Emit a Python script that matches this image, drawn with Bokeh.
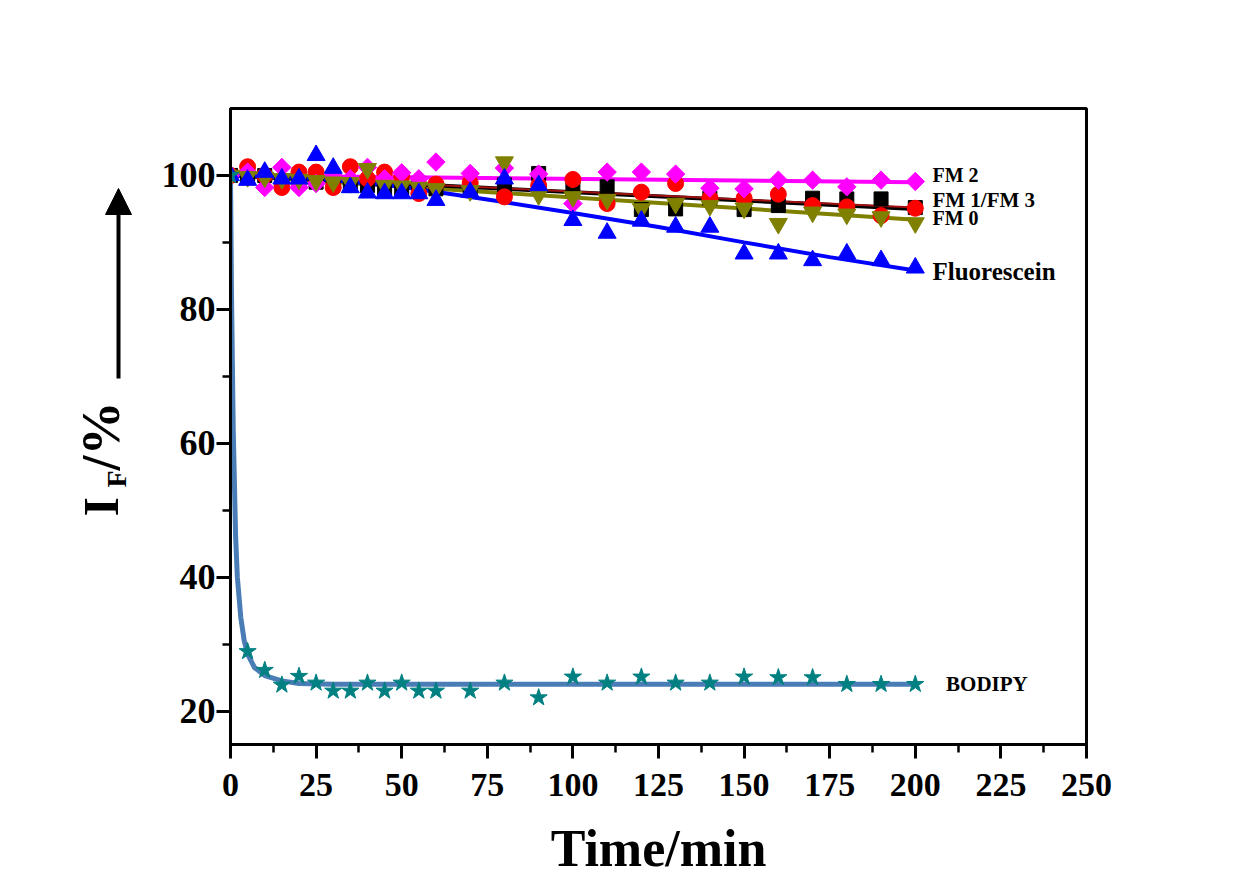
import math
from bokeh.plotting import figure
from bokeh.layouts import row
from bokeh.models import Range1d, FixedTicker, Arrow, NormalHead, ColumnDataSource
from bokeh.core.properties import value
from bokeh.embed import file_html
from bokeh.resources import INLINE

# ---- data ----
time_min = [0, 5, 10, 15, 20, 25, 30, 35, 40, 45, 50, 55, 60, 70, 80, 90,
            100, 110, 120, 130, 140, 150, 160, 170, 180, 190, 200]

fm1 = [100, 100, 100, 99, 99, 99, 99, 98.5, 98.5, 98, 98, 98.8, 98, 98, 98.6, 100.3,
       98, 98.3, 94.9, 95, 96.6, 94.9, 95.5, 96.6, 96.5, 96.5, 95.2]
fm3 = [100, 101.3, 100, 98.2, 100.5, 100.5, 98.2, 101.3, 99.5, 100.5, 99.8, 97.3, 98.7, 98.9, 96.8, 98.5,
       99.4, 95.8, 97.5, 98.8, 96.6, 96.6, 97.2, 95.5, 95.3, 94.0, 95.1]
fm2 = [100, 100.5, 98.2, 101.2, 98.2, 98.8, 100, 99.5, 101.2, 99.5, 100.4, 99.5, 102, 100.3, 101.1, 100.2,
       95.8, 100.5, 100.5, 100.2, 98.1, 98.0, 99.3, 99.3, 98.3, 99.3, 99.1]
fm0 = [100, 99.8, 99.7, 99.5, 99.4, 99.2, 99.0, 98.9, 101, 98.5, 98.4, 98.2, 98.0, 97.7, 102, 97.1,
       96.8, 96.4, 95.0, 95.8, 95.5, 95.1, 92.8, 94.5, 94.2, 93.8, 92.9]
fluorescein = [100, 99.3, 100.5, 99.5, 99.5, 103, 101.1, 98.2, 97.4, 97.3, 97.3, 97.3, 96.3, 97.5, 99.5, 98.5,
               93.3, 91.4, 93.2, 92.3, 92.3, 88.3, 88.3, 87.3, 88.3, 87.3, 86.2]
bodipy = [100, 28.9, 26.1, 23.9, 25.2, 24.2, 23.0, 23.0, 24.2, 23.0, 24.2, 23.0, 23.0, 23.0, 24.2, 22.0,
          25.1, 24.2, 25.1, 24.2, 24.2, 25.1, 25.0, 25.0, 24.0, 24.0, 24.0]

# fitted curves
fit_lin_x = [0, 200]
fit_fm2 = [100, 99.0]
fit_fm1 = [100, 95.0]
fit_fm3 = [100, 95.2]
fit_fm0 = [100, 93.4]
fit_fluo_x = [0, 25, 50, 75, 100, 125, 150, 175, 200]
fit_fluo = [100, 99.5, 98.3, 96.4, 94.4, 92.3, 90.0, 87.8, 85.8]
fit_bod_x = [0, 0.3, 0.8, 1.5, 2, 3, 4, 5, 7, 10, 15, 20, 30, 200]
fit_bod = [100, 82, 62, 46, 40, 34, 30.5, 28.5, 26.5, 25.3, 24.5, 24.1, 24.0, 24.0]

series_names = ["FM 2", "FM 1/FM 3", "FM 0", "Fluorescein", "BODIPY"]
name_x = [205, 205, 205, 205, 209]
name_y = [100.1, 96.3, 93.6, 85.7, 24.0]
name_size = ["20px", "21px", "20px", "25px", "21px"]

x_ticks = [0, 25, 50, 75, 100, 125, 150, 175, 200, 225, 250]
y_ticks = [20, 40, 60, 80, 100]
x_label = "Time/min"
y_label_parts = ["I", "F", "/%"]

FONT = "Liberation Serif"
H = 880
TOP = 108
BOTTOM = H - 744

# ---- main plot ----
p = figure(width=1080, height=H, x_range=Range1d(0, 250), y_range=Range1d(15, 110),
           output_backend="svg", toolbar_location=None,
           min_border_left=80, min_border_right=144, min_border_top=TOP, min_border_bottom=BOTTOM)
p.background_fill_color = "white"
p.border_fill_color = "white"
p.grid.visible = False
p.outline_line_color = "black"
p.outline_line_width = 3

p.xaxis.ticker = FixedTicker(ticks=x_ticks, minor_ticks=[12.5 + 25 * i for i in range(10)])
p.yaxis.ticker = FixedTicker(ticks=y_ticks, minor_ticks=[30, 50, 70, 90])
for ax in (p.xaxis[0], p.yaxis[0]):
    ax.axis_line_width = 3
    ax.major_tick_line_width = 3
    ax.minor_tick_line_width = 2.5
    ax.major_tick_in = 0
    ax.major_tick_out = 14
    ax.minor_tick_in = 0
    ax.minor_tick_out = 8
    ax.major_label_text_font = FONT
    ax.major_label_text_font_style = "bold"
    ax.major_label_text_color = "black"
p.xaxis.major_label_text_font_size = "34px"
p.yaxis.major_label_text_font_size = "36px"
p.xaxis.major_label_standoff = 15
p.yaxis.major_label_standoff = 1
p.xaxis.axis_label = x_label
p.xaxis.axis_label_text_font = FONT
p.xaxis.axis_label_text_font_style = "bold"
p.xaxis.axis_label_text_font_size = "52px"
p.xaxis.axis_label_text_color = "black"
p.xaxis.axis_label_standoff = 21

# fitted lines
p.line(fit_lin_x, fit_fm0, line_color="#808000", line_width=4)
p.line(fit_lin_x, fit_fm1, line_color="black", line_width=4)
p.line(fit_lin_x, fit_fm3, line_color="#a01010", line_width=2)
p.line(fit_lin_x, fit_fm2, line_color="#ff00ff", line_width=4)
p.line(fit_fluo_x, fit_fluo, line_color="#0000ff", line_width=4)
p.line(fit_bod_x, fit_bod, line_color="#4a7db5", line_width=5)

# markers
p.scatter(time_min, fm1, marker="square", size=14, fill_color="black", line_color="black")
p.scatter(time_min, fm3, marker="circle", size=16, fill_color="#ff0000", line_color="#ff0000")
p.scatter(time_min, fm2, marker="square", angle=math.pi / 4, size=13, fill_color="#ff00ff", line_color="#ff00ff")
p.scatter(time_min, fm0, marker="inverted_triangle", size=18, fill_color="#808000", line_color="#808000")
p.scatter(time_min, fluorescein, marker="triangle", size=18, fill_color="#0000ff", line_color="#0000ff")
p.scatter(time_min, bodipy, marker="star", size=18, fill_color="#008080", line_color="#008080")

# series labels
src = ColumnDataSource(dict(x=name_x, y=name_y, t=series_names, s=name_size))
p.text(x="x", y="y", text="t", source=src, text_font=value(FONT), text_font_style="bold",
       text_font_size="s", text_baseline="middle", text_align="left", text_color="black")

# ---- left strip: y-axis title I_F/% with upward arrow ----
# coordinates: x = page pixel, y = 876 - page pixel; frame spans page y 108..744
left = figure(width=150, height=H, x_range=Range1d(0, 150), y_range=Range1d(876 - 744, 876 - TOP),
              output_backend="svg", toolbar_location=None, x_axis_type=None, y_axis_type=None,
              min_border_left=0, min_border_right=0, min_border_top=TOP, min_border_bottom=BOTTOM)
left.outline_line_color = None
left.background_fill_color = "white"
left.border_fill_color = "white"
left.text(x=[100], y=[360], text=[y_label_parts[0]], angle=math.pi / 2, text_font=value(FONT),
          text_font_style="bold", text_font_size="50px", text_align="left", text_baseline="alphabetic",
          text_color="black")
left.text(x=[116], y=[389], text=[y_label_parts[1]], angle=math.pi / 2, text_font=value(FONT),
          text_font_style="bold", text_font_size="28px", text_align="left", text_baseline="alphabetic",
          text_color="black")
left.text(x=[100], y=[406], text=[y_label_parts[2]], angle=math.pi / 2, text_font=value(FONT),
          text_font_style="bold", text_font_size="54px", text_align="left", text_baseline="alphabetic",
          text_color="black")
left.add_layout(Arrow(x_start=118, y_start=498, x_end=118, y_end=688, line_width=4, line_color="black",
                      end=NormalHead(size=26, fill_color="black", line_color="black")))

layout = row(left, p)
open("out.html", "w").write(file_html(layout, INLINE))
